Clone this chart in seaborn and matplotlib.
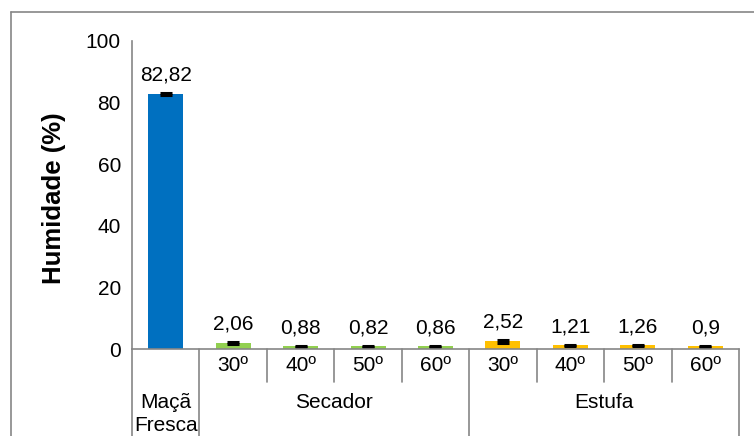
import matplotlib
matplotlib.use("Agg")
import matplotlib.pyplot as plt
import matplotlib.transforms as mtransforms
import pandas as pd
import seaborn as sns

categories = ["Maçã Fresca", "Secador 30º", "Secador 40º", "Secador 50º", "Secador 60º",
              "Estufa 30º", "Estufa 40º", "Estufa 50º", "Estufa 60º"]
humidade = [82.82, 2.06, 0.88, 0.82, 0.86, 2.52, 1.21, 1.26, 0.9]
erros = [0.3, 0.3, 0.2, 0.2, 0.2, 0.45, 0.25, 0.2, 0.2]
temperaturas = ["", "30º", "40º", "50º", "60º", "30º", "40º", "50º", "60º"]
grupos = ["Secador", "Estufa"]
cores = ["#0070C0"] + ["#92D050"] * 4 + ["#FFC000"] * 4

GREY = "#868686"
FS = 15

sns.set_style("white")
plt.rcParams["font.family"] = ["Liberation Sans", "DejaVu Sans"]
plt.rcParams["text.color"] = "black"
plt.rcParams["ytick.labelcolor"] = "black"

df = pd.DataFrame({"amostra": categories, "humidade": humidade})

fig = plt.figure(figsize=(7.54, 4.36), dpi=100)
ax = fig.add_axes([132 / 754, 1 - 349 / 436, 607 / 754, 308 / 436])

sns.barplot(data=df, x="amostra", y="humidade", hue="amostra", palette=cores,
            legend=False, width=0.52, saturation=1, linewidth=0, ax=ax)
ax.errorbar(range(len(humidade)), humidade, yerr=erros, fmt="none",
            ecolor="black", elinewidth=2, capsize=4.3, capthick=2.2)

for i, (v, e) in enumerate(zip(humidade, erros)):
    ax.annotate(str(v).replace(".", ","), (i, v + e), xytext=(0, 9),
                textcoords="offset points", ha="center", va="baseline", fontsize=FS)

ax.set_ylim(0, 100)
ax.set_xlim(-0.5, 8.5)
ax.set_yticks(range(0, 101, 20))
ax.tick_params(axis="y", labelsize=FS, length=4, width=1, color=GREY, labelcolor="black",
               direction="out", pad=4)
ax.tick_params(axis="x", bottom=False, labelbottom=False)
ax.set_xlabel("")
ax.set_ylabel("")
for side in ["top", "right"]:
    ax.spines[side].set_visible(False)
for side in ["left", "bottom"]:
    ax.spines[side].set_color(GREY)
    ax.spines[side].set_linewidth(1.2)

# eixo de categorias em dois niveis
trans = mtransforms.blended_transform_factory(ax.transData, ax.transAxes)
for x in [1.5, 2.5, 3.5, 5.5, 6.5, 7.5]:
    ax.plot([x, x], [0, -0.107], color=GREY, lw=1.2, transform=trans, clip_on=False)
for x in [-0.5, 0.5, 4.5, 8.5]:
    ax.plot([x, x], [0, -0.32], color=GREY, lw=1.2, transform=trans, clip_on=False)
for i, t in enumerate(temperaturas):
    if t:
        ax.text(i, -0.052, t, transform=trans, ha="center", va="center", fontsize=FS)
ax.text(0, -0.175, "Maçã", transform=trans, ha="center", va="center", fontsize=FS)
ax.text(0, -0.247, "Fresca", transform=trans, ha="center", va="center", fontsize=FS)
ax.text(2.5, -0.175, grupos[0], transform=trans, ha="center", va="center", fontsize=FS)
ax.text(6.5, -0.175, grupos[1], transform=trans, ha="center", va="center", fontsize=FS)

fig.text(54 / 754, 1 - 198 / 436, "Humidade (%)", rotation=90, ha="center", va="center",
         fontsize=18.5, fontweight="bold")

# moldura exterior do grafico (cortada a direita e em baixo)
fig.add_artist(plt.Line2D([11 / 754, 11 / 754], [1 - 12 / 436, 0], color=GREY, lw=1.2))
fig.add_artist(plt.Line2D([11 / 754, 1], [1 - 12 / 436, 1 - 12 / 436], color=GREY, lw=1.2))

fig.savefig("out.png", dpi=100)
